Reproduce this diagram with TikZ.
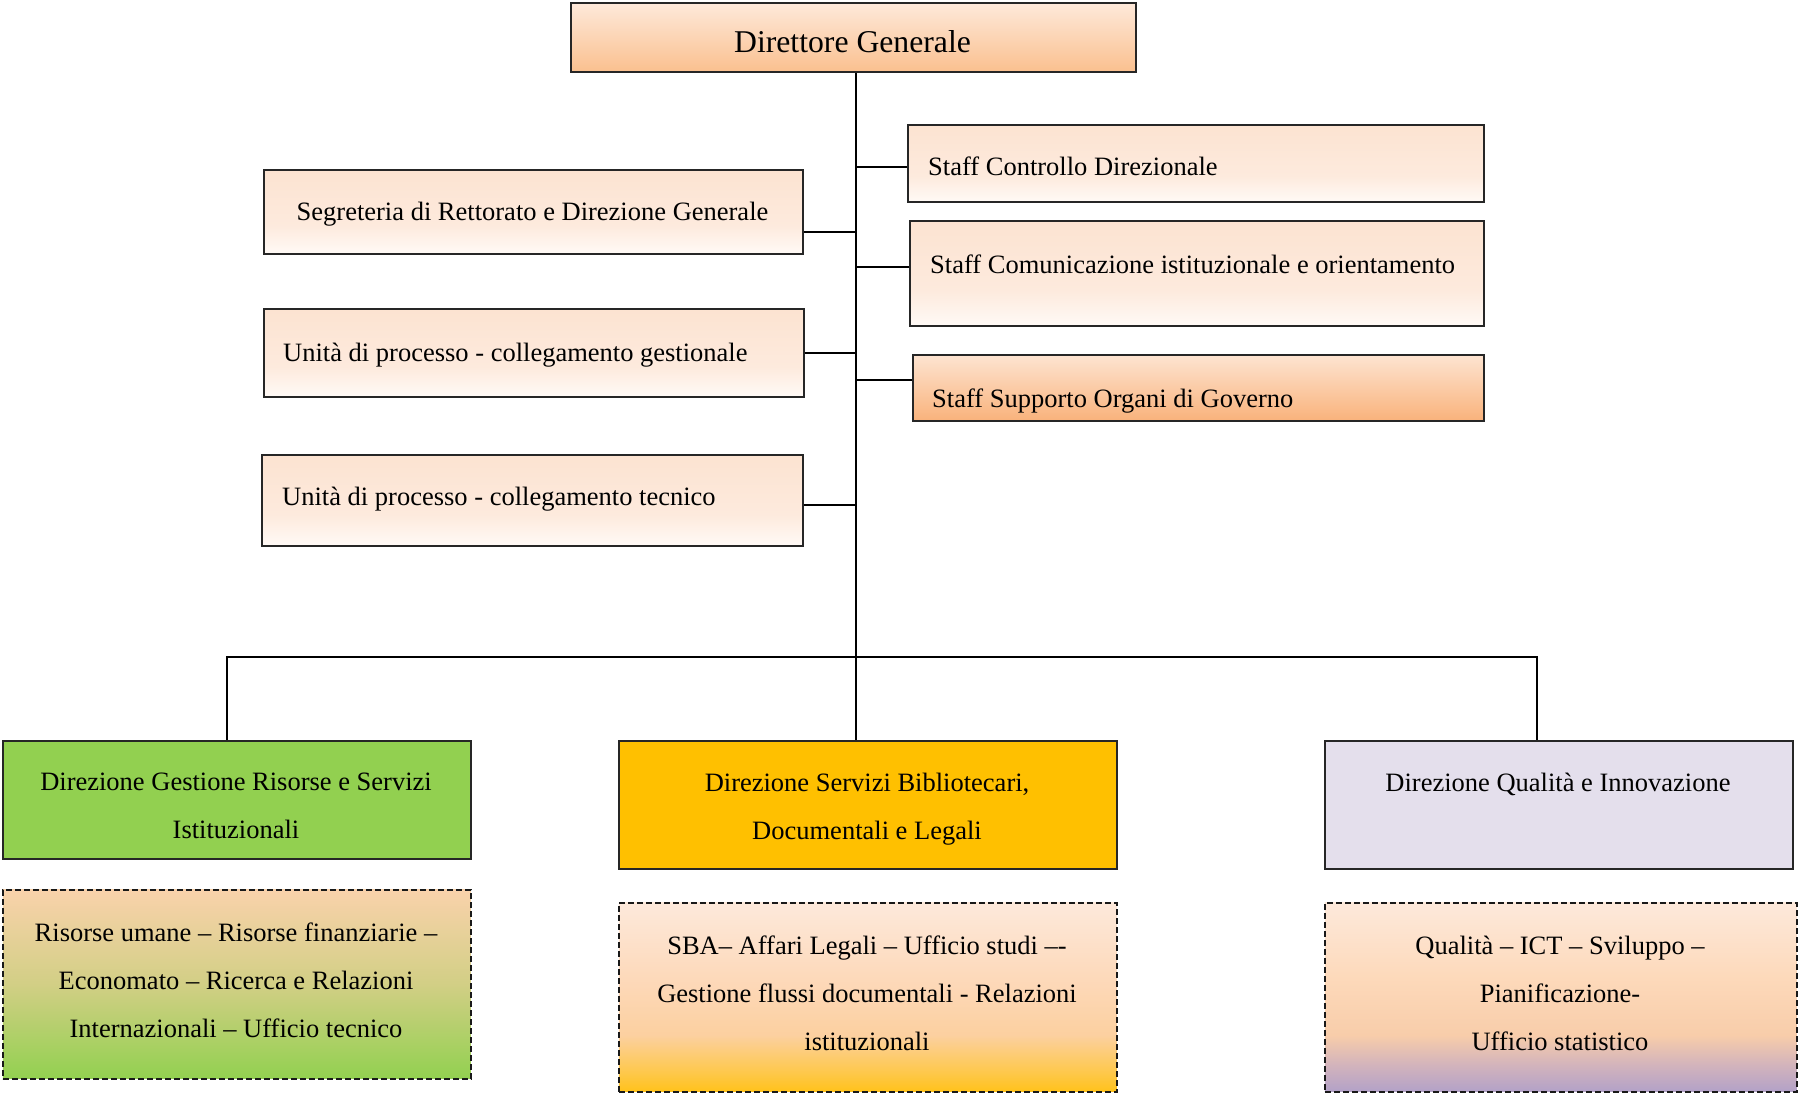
\documentclass[tikz,border=0pt]{standalone}
\usepackage{fontspec}
\setmainfont{Liberation Serif}
\definecolor{dgtop}{HTML}{FEE9DA}
\definecolor{dgbot}{HTML}{FAC08F}
\definecolor{sutop}{HTML}{FDE4D1}
\definecolor{subot}{HTML}{F9B27B}
\definecolor{pwA}{HTML}{FFFAF6}
\definecolor{pwB}{HTML}{FDEADD}
\definecolor{pwC}{HTML}{FCE3D1}
\definecolor{dgreen}{HTML}{92D050}
\definecolor{dyellow}{HTML}{FFC000}
\definecolor{dlav}{HTML}{E4DFEC}
\definecolor{gtop}{HTML}{F9D2AB}
\definecolor{gmid}{HTML}{D2CF85}
\definecolor{ylA}{HTML}{FFC21A}
\definecolor{ylB}{HTML}{FEC84A}
\definecolor{ylC}{HTML}{FCD0A0}
\definecolor{ylE}{HTML}{FDD9BA}
\definecolor{ylD}{HTML}{FDE9DB}
\definecolor{lvA}{HTML}{B2A1C8}
\definecolor{lvB}{HTML}{D2B3BC}
\definecolor{lvC}{HTML}{F8CDAA}
\pgfdeclareverticalshading{peachbox}{100bp}{color(0bp)=(pwA); color(25bp)=(pwA); color(42bp)=(pwB); color(75bp)=(pwC); color(100bp)=(pwC)}
\pgfdeclareverticalshading{greenbox}{100bp}{color(0bp)=(dgreen); color(25bp)=(dgreen); color(50bp)=(gmid); color(75bp)=(gtop); color(100bp)=(gtop)}
\pgfdeclareverticalshading{yellowbox}{100bp}{color(0bp)=(ylA); color(25bp)=(ylA); color(30bp)=(ylB); color(40bp)=(ylC); color(55bp)=(ylE); color(75bp)=(ylD); color(100bp)=(ylD)}
\pgfdeclareverticalshading{lavbox}{100bp}{color(0bp)=(lvA); color(25bp)=(lvA); color(32bp)=(lvB); color(40bp)=(lvC); color(55bp)=(ylE); color(75bp)=(ylD); color(100bp)=(ylD)}
\tikzset{
  bx/.style={draw=black!85, line width=1.8pt, inner sep=0pt, anchor=north west},
  dsh/.style={draw=black!90, line width=1.6pt, dash pattern=on 6pt off 3pt, inner sep=0pt, anchor=north west},
  conn/.style={draw=black, line width=1.8pt},
  txt/.style={inner sep=0pt, font=\fontsize{26.5}{48}\selectfont},
  ttl/.style={inner sep=0pt, font=\fontsize{31.7}{38}\selectfont},
  pch/.style={shading=peachbox},
}
\begin{document}
\begin{tikzpicture}[x=1pt,y=-1pt]
\useasboundingbox (0,0) rectangle (1798,1094);
% top
\node[bx, top color=dgtop, bottom color=dgbot, minimum width=565pt, minimum height=69pt] (dg) at (570,2) {};
\node[ttl, anchor=base] (dg-t) at (852.5,53) {Direttore Generale};
% left staff
\node[bx, pch, minimum width=539pt, minimum height=84pt] (seg) at (263,169) {};
\node[txt, anchor=base] (seg-t) at (532.5,220) {Segreteria di Rettorato e Direzione Generale};
\node[bx, pch, minimum width=540pt, minimum height=88pt] (ug) at (263,308) {};
\node[txt, anchor=base west] (ug-t) at (283,361) {Unità di processo - collegamento gestionale};
\node[bx, pch, minimum width=541pt, minimum height=91pt] (ut) at (261,454) {};
\node[txt, anchor=base west] (ut-t) at (282,505) {Unità di processo - collegamento tecnico};
% right staff
\node[bx, pch, minimum width=576pt, minimum height=77pt] (sc) at (907,124) {};
\node[txt, anchor=base west] (sc-t) at (928,176) {Staff Controllo Direzionale};
\node[bx, pch, minimum width=574pt, minimum height=105pt] (sm) at (909,220) {};
\node[txt, anchor=base west] (sm-t) at (930,273) {Staff Comunicazione istituzionale e orientamento};
\node[bx, top color=sutop, bottom color=subot, minimum width=571pt, minimum height=66pt] (ss) at (912,354) {};
\node[txt, anchor=base west] (ss-t) at (932,407) {Staff Supporto Organi di Governo};
% directions
\node[bx, fill=dgreen, minimum width=468pt, minimum height=118pt] (d1) at (2,740) {};
\node[txt, anchor=north, align=center] (d1-t) at (236,773) {Direzione Gestione Risorse e Servizi\\Istituzionali};
\node[bx, fill=dyellow, minimum width=498pt, minimum height=128pt] (d2) at (618,740) {};
\node[txt, anchor=north, align=center] (d2-t) at (867,773) {Direzione Servizi Bibliotecari,\\Documentali e Legali};
\node[bx, fill=dlav, minimum width=468pt, minimum height=128pt] (d3) at (1324,740) {};
\node[txt, anchor=north, align=center] (d3-t) at (1558,773) {Direzione Qualità e Innovazione};
% offices
\node[dsh, shading=greenbox, minimum width=468pt, minimum height=189pt] (u1) at (2,889) {};
\node[txt, anchor=north, align=center] (u1-t) at (236,923) {Risorse umane – Risorse finanziarie –\\Economato – Ricerca e Relazioni\\Internazionali – Ufficio tecnico};
\node[dsh, shading=yellowbox, minimum width=498pt, minimum height=189pt] (u2) at (618,902) {};
\node[txt, anchor=north, align=center] (u2-t) at (867,936) {SBA– Affari Legali – Ufficio studi –-\\Gestione flussi documentali - Relazioni\\istituzionali};
\node[dsh, shading=lavbox, minimum width=472pt, minimum height=189pt] (u3) at (1324,902) {};
\node[txt, anchor=north, align=center] (u3-t) at (1560,936) {Qualità – ICT – Sviluppo –\\Pianificazione-\\Ufficio statistico};
% helper coordinates
\coordinate (tx) at (856,0);
\coordinate (lx) at (227,0);
\coordinate (rx) at (1537,0);
\coordinate (c1) at (0,232);
\coordinate (c2) at (0,353);
\coordinate (c3) at (0,505);
\coordinate (c4) at (0,167);
\coordinate (c5) at (0,267);
\coordinate (c6) at (0,380);
\coordinate (bar) at (0,657);
% connectors
\draw[conn] (dg.south -| tx) -- (d2.north -| tx);
\draw[conn] (seg.east |- c1) -- (tx |- c1);
\draw[conn] (ug.east |- c2) -- (tx |- c2);
\draw[conn] (ut.east |- c3) -- (tx |- c3);
\draw[conn] (tx |- c4) -- (sc.west |- c4);
\draw[conn] (tx |- c5) -- (sm.west |- c5);
\draw[conn] (tx |- c6) -- (ss.west |- c6);
\draw[conn] (d1.north -| lx) -- (lx |- bar) -- (rx |- bar) -- (d3.north -| rx);
\end{tikzpicture}
\end{document}
